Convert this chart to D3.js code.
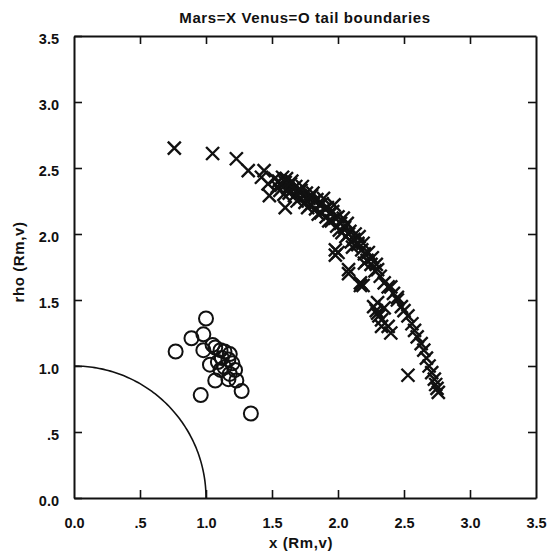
<!DOCTYPE html>
<meta charset="utf-8">
<style>
  body { margin: 0; background: #fff; }
  text { font-family: "Liberation Sans", Arial, sans-serif; font-weight: bold; fill: #111; }
</style>
<svg width="556" height="552"></svg>
<script src="https://d3js.org/d3.v7.min.js"></script>
<script>

// Mars tail boundary crossings (X markers)
var marsX = [0.76,1.05,1.23,1.32,1.44,1.42,1.47,1.48,1.60,
  1.52,1.55,1.57,1.58,1.60,1.62,1.63,1.64,1.66,1.67,1.68,1.70,1.71,1.72,1.74,1.75,1.76,1.78,1.79,1.80,
  1.82,1.83,1.84,1.86,1.87,1.88,1.90,1.91,1.92,1.94,1.95,1.96,1.98,1.99,2.00,2.02,2.03,2.05,2.06,2.08,2.10,2.12,
  1.54,1.56,1.59,1.61,1.65,1.69,1.73,1.77,1.81,1.85,1.89,1.93,1.97,2.01,2.04,2.07,2.09,2.11,2.13,2.16,2.19,2.23,2.26,2.29,
  1.98,1.98,2.00,2.08,2.08,2.17,2.17,2.30,2.40,2.45,
  2.15,2.18,2.20,2.22,2.25,2.28,2.32,2.35,2.38,2.42,2.45,2.48,2.50,2.53,2.56,2.58,2.60,2.63,2.65,2.67,2.69,2.71,2.73,2.74,2.75,2.76,
  2.15,2.20,2.30,2.19,2.30,2.33,2.40,2.27,2.29,2.31,2.35,2.38,2.33,2.53];
var marsRho = [2.65,2.61,2.57,2.48,2.48,2.43,2.38,2.29,2.20,
  2.42,2.40,2.37,2.43,2.39,2.35,2.31,2.38,2.34,2.29,2.36,2.32,2.27,2.33,2.29,2.24,2.31,2.27,2.22,2.29,
  2.25,2.19,2.26,2.22,2.16,2.23,2.19,2.13,2.20,2.16,2.10,2.17,2.12,2.06,2.13,2.08,2.01,2.05,1.98,2.00,1.94,1.96,
  2.36,2.33,2.30,2.42,2.40,2.25,2.36,2.20,2.31,2.15,2.27,2.10,2.22,2.03,2.12,2.08,2.02,1.90,2.00,1.98,1.93,1.86,1.82,1.77,
  1.88,1.84,1.86,1.73,1.70,1.61,1.63,1.48,1.60,1.52,
  1.92,1.88,1.85,1.80,1.77,1.72,1.68,1.63,1.60,1.55,1.50,1.45,1.42,1.38,1.32,1.27,1.22,1.17,1.12,1.06,1.00,0.95,0.90,0.86,0.83,0.80,
  1.93,1.78,1.73,1.61,1.40,1.35,1.25,1.45,1.42,1.38,1.44,1.30,1.30,0.93];

// Venus tail boundary crossings (O markers)
var venusX = [1.00,0.89,0.77,0.98,0.98,1.05,1.07,1.11,1.14,1.18,1.12,1.09,1.17,1.20,1.14,1.11,1.22,1.18,1.03,1.07,1.17,1.23,1.27,0.96,1.34];
var venusRho = [1.36,1.21,1.11,1.24,1.12,1.16,1.14,1.12,1.11,1.09,1.06,1.03,1.05,1.02,0.99,0.97,0.97,0.94,1.01,0.89,0.90,0.89,0.81,0.78,0.64];

var tickVals = [0, 0.5, 1, 1.5, 2, 2.5, 3, 3.5];
var innerTicks = [0.5, 1, 1.5, 2, 2.5, 3];

var svg = d3.select("svg");

var x = d3.scaleLinear().domain([0, 3.5]).range([74, 536]);
var y = d3.scaleLinear().domain([0, 3.5]).range([498, 36]);

var fmt = function(d) { return d === 0.5 ? ".5" : d.toFixed(1); };

// bottom axis, ticks pointing in
var bottom = svg.append("g").attr("transform", "translate(0," + y(0) + ")")
  .call(d3.axisBottom(x).tickValues(tickVals).tickFormat(fmt).tickSizeInner(-8).tickSizeOuter(0).tickPadding(20));
var left = svg.append("g").attr("transform", "translate(" + x(0) + ",0)")
  .call(d3.axisLeft(y).tickValues(tickVals).tickFormat(fmt).tickSizeInner(-8).tickSizeOuter(0).tickPadding(15));
var top = svg.append("g").attr("transform", "translate(0," + y(3.5) + ")")
  .call(d3.axisTop(x).tickValues(innerTicks).tickFormat("").tickSizeInner(-8).tickSizeOuter(0));
var right = svg.append("g").attr("transform", "translate(" + x(3.5) + ",0)")
  .call(d3.axisRight(y).tickValues(innerTicks).tickFormat("").tickSizeInner(-8).tickSizeOuter(0));

svg.selectAll(".domain").attr("stroke", "#111").attr("stroke-width", 2);
svg.selectAll(".tick line").attr("stroke", "#111").attr("stroke-width", 1.6);
svg.selectAll(".tick text").attr("font-size", 14.5).attr("font-family", "Liberation Sans").attr("font-weight", "bold").attr("fill", "#111");
left.selectAll(".tick text").attr("dy", "0.55em");
bottom.selectAll(".tick").filter(function(d) { return d === 0 || d === 3.5; }).select("line").remove();

// planet limb, radius 1
var arc = d3.range(0, 91).map(function(a) {
  var t = a * Math.PI / 180;
  return [x(Math.cos(t)), y(Math.sin(t))];
});
svg.append("path").attr("d", d3.line()(arc))
  .attr("fill", "none").attr("stroke", "#111").attr("stroke-width", 1.6);

// Venus circles
svg.append("g").selectAll("circle")
  .data(venusX.map(function(v, i) { return [v, venusRho[i]]; }))
  .enter().append("circle")
    .attr("cx", function(d) { return x(d[0]); })
    .attr("cy", function(d) { return y(d[1]); })
    .attr("r", 7)
    .attr("fill", "none").attr("stroke", "#111").attr("stroke-width", 2);

// Mars crosses
var s = 6.5;
svg.append("g").selectAll("path")
  .data(marsX.map(function(v, i) { return [v, marsRho[i]]; }))
  .enter().append("path")
    .attr("transform", function(d) { return "translate(" + x(d[0]) + "," + y(d[1]) + ")"; })
    .attr("d", "M" + (-s) + "," + (-s) + "L" + s + "," + s + "M" + (-s) + "," + s + "L" + s + "," + (-s))
    .attr("stroke", "#111").attr("stroke-width", 2.4);

svg.append("text").attr("x", 305).attr("y", 23).attr("text-anchor", "middle")
  .attr("font-size", 15).attr("letter-spacing", 0.6).text("Mars=X Venus=O tail boundaries");
svg.append("text").attr("x", 301).attr("y", 548).attr("text-anchor", "middle")
  .attr("font-size", 15).attr("letter-spacing", 0.6).text("x (Rm,v)");
svg.append("text").attr("transform", "translate(24,262) rotate(-90)").attr("text-anchor", "middle")
  .attr("font-size", 15).attr("letter-spacing", 0.6).text("rho (Rm,v)");

</script>
